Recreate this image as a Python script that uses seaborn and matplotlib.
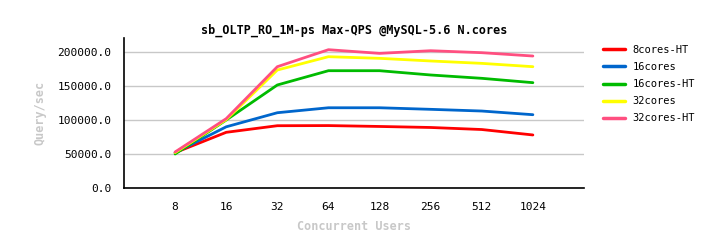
import numpy as np
import pandas as pd
import matplotlib
matplotlib.use("Agg")
import matplotlib.pyplot as plt
import seaborn as sns
from matplotlib.lines import Line2D

users = [8, 16, 32, 64, 128, 256, 512, 1024]
series_names = ["8cores-HT", "16cores", "16cores-HT", "32cores", "32cores-HT"]
qps_8cores_ht = [52000, 81900, 91600, 91800, 90500, 89000, 86000, 78000]
qps_16cores = [52000, 90000, 110700, 118000, 118000, 115700, 113200, 107800]
qps_16cores_ht = [50000, 100000, 151500, 172500, 172500, 166200, 161300, 154900]
qps_32cores = [52000, 100500, 173500, 193100, 190700, 186800, 183300, 178400]
qps_32cores_ht = [53000, 102000, 178400, 203400, 198000, 201900, 199000, 194100]
colors = ["#ff0000", "#0066cc", "#00bb00", "#ffff00", "#ff4f80"]

all_vals = [qps_8cores_ht, qps_16cores, qps_16cores_ht, qps_32cores, qps_32cores_ht]
df = pd.DataFrame({
    "users": users * len(series_names),
    "qps": sum(all_vals, []),
    "series": sum([[n] * len(users) for n in series_names], []),
})

sns.set_theme(style="white")
plt.rcParams["font.family"] = ["DejaVu Sans Mono"]
plt.rcParams["text.color"] = "black"

fig = plt.figure(figsize=(7.14, 2.48), dpi=100)
ax = fig.add_axes([124 / 714, 1 - 188 / 248, 460 / 714, 150 / 248])

sns.lineplot(data=df, x="users", y="qps", hue="series", hue_order=series_names,
             palette=colors, linewidth=2, ax=ax, legend=False)

ax.set_xscale("log", base=2)
ax.set_xlim(4, 2048)
xt = [4] + users + [2048]
ax.set_xticks(xt)
ax.set_xticklabels([""] + [str(u) for u in users] + [""])
ax.minorticks_off()
ax.set_ylim(0, 220600)
ax.set_yticks([0, 50000, 100000, 150000, 200000])
ax.set_yticklabels(["0.0", "50000.0", "100000.0", "150000.0", "200000.0"])
ax.tick_params(axis="both", labelsize=8, colors="black", direction="out",
               length=6, width=1.2, pad=4)
ax.tick_params(axis="y", length=5)
ax.yaxis.grid(True, color="#c8c8c8", linewidth=1)
ax.xaxis.grid(False)
for s in ["top", "right"]:
    ax.spines[s].set_visible(False)
for s in ["left", "bottom"]:
    ax.spines[s].set_color("black")
    ax.spines[s].set_linewidth(1.2)

ax.set_xlabel("Concurrent Users", fontsize=8.5, color="#c8c8c8", fontweight="bold", labelpad=6)
ax.set_ylabel("Query/sec", fontsize=8.5, color="#c8c8c8", fontweight="bold", labelpad=8)
fig.text(354 / 714, 1 - 30 / 248, "sb_OLTP_RO_1M-ps Max-QPS @MySQL-5.6 N.cores",
         ha="center", va="center", fontsize=8.5, fontweight="bold", color="black")

handles = [Line2D([0], [0], color=c, linewidth=2.5) for c in colors]
fig.legend(handles, series_names, loc="upper left", bbox_to_anchor=(603 / 714, 1 - 45 / 248),
           frameon=False, fontsize=7.5, handlelength=2.1, handletextpad=0.75,
           labelspacing=0.68, borderpad=0, borderaxespad=0)

fig.savefig("out.png", dpi=100)
